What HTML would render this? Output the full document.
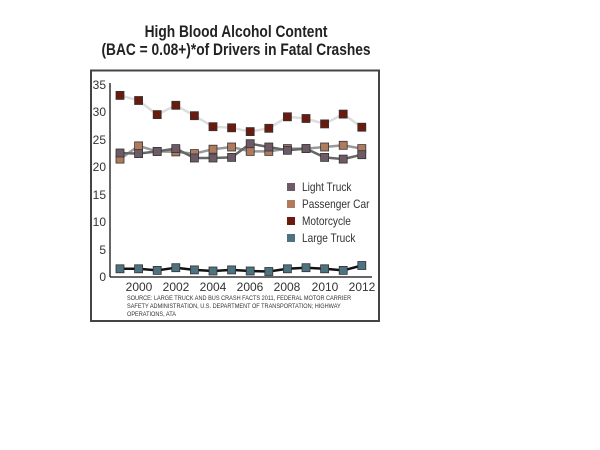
<!DOCTYPE html>
<html><head><style>
html,body{margin:0;padding:0;background:#fff;width:600px;height:450px;overflow:hidden}
svg text{font-family:"Liberation Sans",sans-serif}
</style></head><body>
<svg width="600" height="450" viewBox="0 0 600 450" xmlns="http://www.w3.org/2000/svg">
<g font-weight="bold" font-size="17" fill="#222" text-anchor="middle">
<text x="236" y="37" transform="translate(236 0) scale(0.81 1) translate(-236 0)">High Blood Alcohol Content</text>
<text x="236" y="55" transform="translate(236 0) scale(0.81 1) translate(-236 0)">(BAC = 0.08+)*of Drivers in Fatal Crashes</text>
</g>
<rect x="91" y="70.5" width="288" height="250.5" fill="#fff" stroke="#444" stroke-width="2"/>
<line x1="110" y1="83" x2="110" y2="277" stroke="#333" stroke-width="1.5"/>
<line x1="110" y1="277" x2="372" y2="277" stroke="#333" stroke-width="1.5"/>
<g font-size="12" fill="#333" text-anchor="end">
<text x="106" y="89">35</text><text x="106" y="116">30</text><text x="106" y="144">25</text><text x="106" y="171">20</text><text x="106" y="199">15</text><text x="106" y="226">10</text><text x="106" y="254">5</text><text x="106" y="281">0</text>
</g>
<g font-size="12" fill="#333" text-anchor="middle">
<text x="139" y="291">2000</text><text x="176" y="291">2002</text><text x="213" y="291">2004</text><text x="250" y="291">2006</text><text x="287" y="291">2008</text><text x="325" y="291">2010</text><text x="362" y="291">2012</text>
</g>
<g font-size="6.5" fill="#333" transform="translate(127 0) scale(0.86 1) translate(-127 0)">
<text x="127" y="300">SOURCE: LARGE TRUCK AND BUS CRASH FACTS 2011, FEDERAL MOTOR CARRIER</text>
<text x="127" y="308">SAFETY ADMINISTRATION, U.S. DEPARTMENT OF TRANSPORTATION; HIGHWAY</text>
<text x="127" y="316">OPERATIONS, ATA</text>
</g>
<polyline fill="none" stroke="#ddd" stroke-width="2.5" points="120,95.4 138.6,100.5 157.2,114.6 175.8,105.3 194.4,115.7 213,126.7 231.6,127.8 250.2,131.6 268.8,128.3 287.4,116.8 306,118.5 324.6,123.9 343.2,114.1 361.8,127.2"/>
<polyline fill="none" stroke="#999" stroke-width="2.5" points="120,159.1 138.6,145.9 157.2,151.4 175.8,151.9 194.4,153.6 213,149.2 231.6,147 250.2,151.4 268.8,151.4 287.4,148.6 306,148.6 324.6,147 343.2,145.3 361.8,148.6"/>
<polyline fill="none" stroke="#666" stroke-width="2.5" points="120,153 138.6,153.6 157.2,151.4 175.8,148.6 194.4,158 213,158 231.6,157.4 250.2,143.7 268.8,147 287.4,150.3 306,148.6 324.6,157.4 343.2,159.1 361.8,154.7"/>
<polyline fill="none" stroke="#111" stroke-width="2.5" points="120,268.8 138.6,268.8 157.2,270.4 175.8,267.7 194.4,269.9 213,271 231.6,269.9 250.2,271 268.8,271.5 287.4,268.8 306,267.7 324.6,268.8 343.2,270.4 361.8,265.5"/>
<g stroke="#333" stroke-width="0.8">
<g fill="#6b1a0e">
<rect x="116" y="91.4" width="8" height="8"/><rect x="134.6" y="96.5" width="8" height="8"/><rect x="153.2" y="110.6" width="8" height="8"/><rect x="171.8" y="101.3" width="8" height="8"/><rect x="190.4" y="111.7" width="8" height="8"/><rect x="209" y="122.7" width="8" height="8"/><rect x="227.6" y="123.8" width="8" height="8"/><rect x="246.2" y="127.6" width="8" height="8"/><rect x="264.8" y="124.3" width="8" height="8"/><rect x="283.4" y="112.8" width="8" height="8"/><rect x="302" y="114.5" width="8" height="8"/><rect x="320.6" y="119.9" width="8" height="8"/><rect x="339.2" y="110.1" width="8" height="8"/><rect x="357.8" y="123.2" width="8" height="8"/>
</g>
<g fill="#b07a5e">
<rect x="116" y="155.1" width="8" height="8"/><rect x="134.6" y="141.9" width="8" height="8"/><rect x="153.2" y="147.4" width="8" height="8"/><rect x="171.8" y="147.9" width="8" height="8"/><rect x="190.4" y="149.6" width="8" height="8"/><rect x="209" y="145.2" width="8" height="8"/><rect x="227.6" y="143" width="8" height="8"/><rect x="246.2" y="147.4" width="8" height="8"/><rect x="264.8" y="147.4" width="8" height="8"/><rect x="283.4" y="144.6" width="8" height="8"/><rect x="302" y="144.6" width="8" height="8"/><rect x="320.6" y="143" width="8" height="8"/><rect x="339.2" y="141.3" width="8" height="8"/><rect x="357.8" y="144.6" width="8" height="8"/>
</g>
<g fill="#6e5a66">
<rect x="116" y="149" width="8" height="8"/><rect x="134.6" y="149.6" width="8" height="8"/><rect x="153.2" y="147.4" width="8" height="8"/><rect x="171.8" y="144.6" width="8" height="8"/><rect x="190.4" y="154" width="8" height="8"/><rect x="209" y="154" width="8" height="8"/><rect x="227.6" y="153.4" width="8" height="8"/><rect x="246.2" y="139.7" width="8" height="8"/><rect x="264.8" y="143" width="8" height="8"/><rect x="283.4" y="146.3" width="8" height="8"/><rect x="302" y="144.6" width="8" height="8"/><rect x="320.6" y="153.4" width="8" height="8"/><rect x="339.2" y="155.1" width="8" height="8"/><rect x="357.8" y="150.7" width="8" height="8"/>
</g>
<g fill="#4d7380">
<rect x="116" y="264.8" width="8" height="8"/><rect x="134.6" y="264.8" width="8" height="8"/><rect x="153.2" y="266.4" width="8" height="8"/><rect x="171.8" y="263.7" width="8" height="8"/><rect x="190.4" y="265.9" width="8" height="8"/><rect x="209" y="267" width="8" height="8"/><rect x="227.6" y="265.9" width="8" height="8"/><rect x="246.2" y="267" width="8" height="8"/><rect x="264.8" y="267.5" width="8" height="8"/><rect x="283.4" y="264.8" width="8" height="8"/><rect x="302" y="263.7" width="8" height="8"/><rect x="320.6" y="264.8" width="8" height="8"/><rect x="339.2" y="266.4" width="8" height="8"/><rect x="357.8" y="261.5" width="8" height="8"/>
</g>
</g>
<g>
<rect x="287" y="183" width="8" height="8" fill="#6e5a66"/>
<rect x="287" y="200" width="8" height="8" fill="#b07a5e"/>
<rect x="287" y="217" width="8" height="8" fill="#6b1a0e"/>
<rect x="287" y="234" width="8" height="8" fill="#4d7380"/>
</g>
<g font-size="11.5" fill="#333" transform="translate(302 0) scale(0.88 1) translate(-302 0)">
<text x="302" y="191">Light Truck</text>
<text x="302" y="208">Passenger Car</text>
<text x="302" y="225">Motorcycle</text>
<text x="302" y="242">Large Truck</text>
</g>
</svg>
</body></html>
